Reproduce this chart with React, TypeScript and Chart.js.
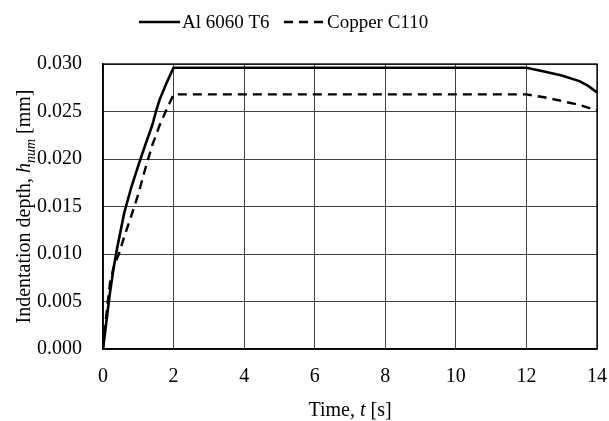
import React, { useEffect, useRef } from 'react';
import { Chart, registerables } from 'chart.js';

Chart.register(...registerables);

// ---- data ----
const seriesNames = ['Al 6060 T6', 'Copper C110'];

const alTime = [0, 0.1, 0.2, 0.3, 0.4, 0.6, 0.8, 1.0, 1.2, 1.4, 1.5, 1.6, 1.8, 2.0, 4, 6, 8, 10, 12, 12.5, 13, 13.5, 13.75, 14];
const alDepth = [0, 0.003, 0.006, 0.0085, 0.0106, 0.0143, 0.017, 0.0193, 0.0215, 0.0236, 0.025, 0.0262, 0.028, 0.0296, 0.0296, 0.0296, 0.0296, 0.0296, 0.0296, 0.0292, 0.0288, 0.0282, 0.0277, 0.027];

const cuTime = [0, 0.1, 0.2, 0.3, 0.45, 0.6, 0.8, 1.0, 1.2, 1.4, 1.6, 1.8, 2.0, 4, 6, 8, 10, 12, 12.5, 13, 13.5, 14];
const cuDepth = [0, 0.0038, 0.007, 0.0086, 0.01, 0.0118, 0.014, 0.0163, 0.019, 0.0215, 0.0235, 0.0252, 0.0268, 0.0268, 0.0268, 0.0268, 0.0268, 0.0268, 0.0265, 0.0261, 0.0257, 0.0251];

const xTicks = [0, 2, 4, 6, 8, 10, 12, 14];
const yTicks = [0, 0.005, 0.01, 0.015, 0.02, 0.025, 0.03];

const FONT = 'Liberation Serif';
const FS = 20;
const LEG_FS = 19;

type Seg = { t: string; it?: boolean; sub?: boolean };

function drawRich(ctx: CanvasRenderingContext2D, segs: Seg[], cx: number, baseY: number) {
  const fontOf = (s: Seg) => `${s.it ? 'italic ' : ''}${s.sub ? 14 : FS}px "${FONT}"`;
  let total = 0;
  const widths = segs.map((s) => {
    ctx.font = fontOf(s);
    const w = ctx.measureText(s.t).width;
    total += w;
    return w;
  });
  let x = cx - total / 2;
  ctx.textAlign = 'left';
  ctx.textBaseline = 'alphabetic';
  segs.forEach((s, i) => {
    ctx.font = fontOf(s);
    ctx.fillText(s.t, x, baseY + (s.sub ? 5 : 0));
    x += widths[i];
  });
}

const decorPlugin = {
  id: 'decor',
  afterDraw(chart: any) {
    const { ctx, chartArea } = chart;
    ctx.save();
    // border
    ctx.strokeStyle = '#000';
    ctx.lineWidth = 1.3;
    ctx.setLineDash([]);
    ctx.strokeRect(chartArea.left, chartArea.top, chartArea.right - chartArea.left, chartArea.bottom - chartArea.top);

    ctx.fillStyle = '#000';
    // legend
    const ly = 22;
    ctx.lineWidth = 2.5;
    ctx.beginPath();
    ctx.moveTo(139, ly);
    ctx.lineTo(180, ly);
    ctx.stroke();
    ctx.font = `${LEG_FS}px "${FONT}"`;
    ctx.textAlign = 'left';
    ctx.textBaseline = 'middle';
    ctx.fillText(seriesNames[0], 182, ly + 1);
    ctx.setLineDash([9, 6]);
    ctx.beginPath();
    ctx.moveTo(284, ly);
    ctx.lineTo(326, ly);
    ctx.stroke();
    ctx.setLineDash([]);
    ctx.fillText(seriesNames[1], 327, ly + 1);

    // x title
    const cx = (chartArea.left + chartArea.right) / 2;
    drawRich(ctx, [{ t: 'Time, ' }, { t: 't', it: true }, { t: ' [s]' }], cx, 416);

    // y title
    const cy = (chartArea.top + chartArea.bottom) / 2;
    ctx.translate(30, cy);
    ctx.rotate(-Math.PI / 2);
    drawRich(ctx, [{ t: 'Indentation depth, ' }, { t: 'h', it: true }, { t: 'num', it: true, sub: true }, { t: ' [mm]' }], 0, 0);
    ctx.restore();
  },
};

export default function App() {
  const ref = useRef<HTMLCanvasElement>(null);
  useEffect(() => {
    if (!ref.current) return;
    const chart = new Chart(ref.current, {
      type: 'line',
      data: {
        datasets: [
          {
            label: seriesNames[0],
            data: alTime.map((x, i) => ({ x, y: alDepth[i] })),
            borderColor: '#000',
            borderWidth: 2.6,
            pointRadius: 0,
            tension: 0,
            fill: false,
          },
          {
            label: seriesNames[1],
            data: cuTime.map((x, i) => ({ x, y: cuDepth[i] })),
            borderColor: '#000',
            borderWidth: 2.4,
            borderDash: [9, 6],
            pointRadius: 0,
            tension: 0,
            fill: false,
          },
        ],
      },
      options: {
        animation: false,
        responsive: false,
        devicePixelRatio: 1,
        layout: { padding: { left: 0, right: 12, top: 64, bottom: 0 } },
        plugins: { legend: { display: false }, tooltip: { enabled: false } },
        scales: {
          x: {
            type: 'linear',
            min: 0,
            max: 14,
            afterBuildTicks: (s: any) => {
              s.ticks = xTicks.map((v) => ({ value: v }));
            },
            afterFit: (s: any) => {
              s.height = 72;
              s.paddingLeft = 0;
              s.paddingRight = 0;
            },
            ticks: { font: { family: FONT, size: FS }, color: '#000', padding: 16, maxRotation: 0 },
            grid: { color: '#404040', lineWidth: 1, drawTicks: false },
            border: { color: '#000', width: 1.3 },
          },
          y: {
            type: 'linear',
            min: 0,
            max: 0.03,
            afterBuildTicks: (s: any) => {
              s.ticks = yTicks.map((v) => ({ value: v }));
            },
            afterFit: (s: any) => {
              s.width = 103;
              s.paddingTop = 0;
              s.paddingBottom = 0;
            },
            ticks: {
              font: { family: FONT, size: FS },
              color: '#000',
              padding: 21,
              callback: (v: any) => Number(v).toFixed(3),
            },
            grid: { color: '#404040', lineWidth: 1, drawTicks: false },
            border: { color: '#000', width: 1.3 },
          },
        },
      },
      plugins: [decorPlugin],
    });
    return () => chart.destroy();
  }, []);
  return (
    <div style={{ position: 'fixed', left: 0, top: 0, width: 609, height: 421, background: '#fff' }}>
      <canvas ref={ref} width={609} height={421} style={{ display: 'block' }} />
    </div>
  );
}
